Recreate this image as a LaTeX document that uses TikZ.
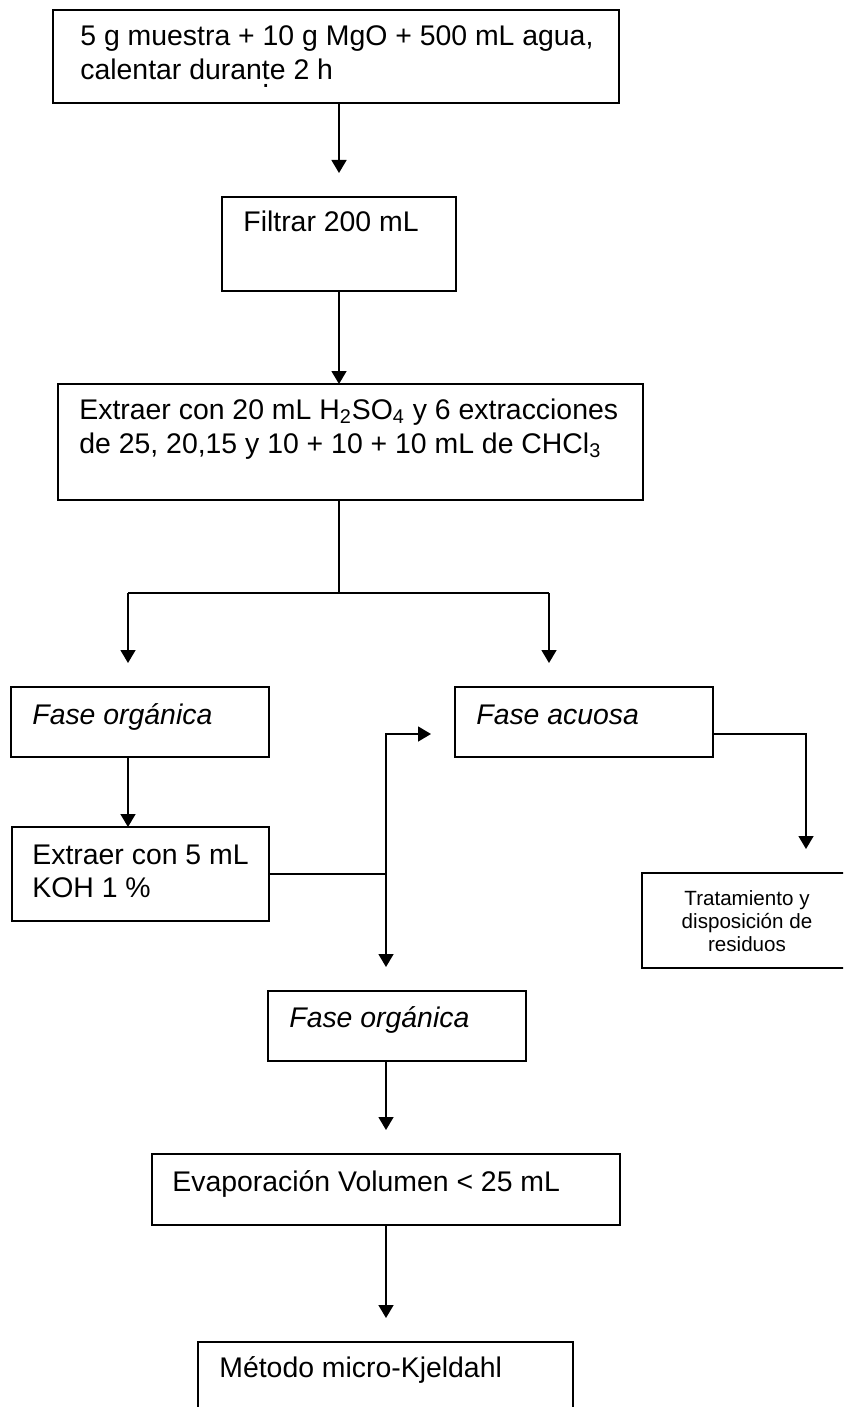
\documentclass[tikz,border=0pt]{standalone}
\usepackage{fontspec}
\setmainfont{Liberation Sans}
\usetikzlibrary{arrows.meta}
\newcommand\dotunder[1]{\oalign{#1\crcr\hidewidth.\hidewidth}}
\begin{document}
\begin{tikzpicture}[x=0.5pt,y=-0.5pt,
  box/.style={draw, line width=0.75pt, inner sep=0pt, outer sep=0pt, anchor=north west},
  txt/.style={inner sep=0pt, anchor=base west, font=\fontsize{14.2}{17}\selectfont},
  itx/.style={inner sep=0pt, anchor=base west, font=\fontsize{14.2}{17}\selectfont\itshape},
  small/.style={inner sep=0pt, anchor=base, font=\fontsize{10.3}{11.5}\selectfont},
  ln/.style={line width=0.75pt},
  arr/.style={ln, -{Triangle[length=6.5pt,width=7.5pt]}},
  gap/.style={shorten >=12pt}]
\useasboundingbox (0,0) rectangle (843,1407);
\clip (0,0) rectangle (843,1407);
\fill[white] (0,0) rectangle (843,1407);

% boxes
\node[box, minimum width=283pt, minimum height=46.5pt] (b1) at (53,10) {};
\node[box, minimum width=117pt, minimum height=47pt] (b2) at (222,197) {};
\node[box, minimum width=292.5pt, minimum height=58pt] (b3) at (58,384) {};
\node[box, minimum width=129pt, minimum height=35pt] (fo1) at (11,687) {};
\node[box, minimum width=129pt, minimum height=35pt] (fa) at (455,687) {};
\node[box, minimum width=128.5pt, minimum height=47pt] (k5) at (12,827) {};
\node[box, minimum width=105pt, minimum height=47.5pt] (tr) at (642,873) {};
\node[box, minimum width=129pt, minimum height=35pt] (fo2) at (268,991) {};
\node[box, minimum width=234pt, minimum height=35.5pt] (ev) at (152,1154) {};
\node[box, minimum width=187.5pt, minimum height=50pt] (me) at (198,1342) {};

% texts
\node[txt] (t1a) at (80,46) {5 g muestra + 10 g MgO + 500 mL agua,};
\node[txt] (t1b) at (80,80) {calentar duran\dotunder{t}e 2 h};
\node[txt] (t2) at (243,232) {Filtrar 200 mL};
\node[txt] (t3a) at (79,419) {Extraer con 20 mL H\textsubscript{2}SO\textsubscript{4} y 6 extracciones};
\node[txt] (t3b) at (79,453) {de 25, 20,15 y 10 + 10 + 10 mL de CHCl\textsubscript{3}};
\node[itx] (t4) at (32,724) {Fase orgánica};
\node[itx] (t5) at (476,724) {Fase acuosa};
\node[txt] (t6a) at (32,864) {Extraer con 5 mL};
\node[txt] (t6b) at (32,897) {KOH 1 \%};
\node[small] (t7a) at (747,905) {Tratamiento y};
\node[small] (t7b) at (747,928) {disposición de};
\node[small] (t7c) at (747,951) {residuos};
\node[itx] (t8) at (289,1027) {Fase orgánica};
\node[txt] (t9) at (172,1191) {Evaporación Volumen < 25 mL};
\node[txt] (t10) at (219,1377) {Método micro-Kjeldahl};

% junctions
\coordinate (sp) at (339,593);
\coordinate (spL) at (128,593);
\coordinate (spR) at (549,593);
\coordinate (jtop) at (386,734);
\coordinate (jmid) at (386,874);
\coordinate (fr) at (806,734);

% connectors
\draw[arr, gap] (b2.north |- b1.south) -- (b2.north);
\draw[arr] (b2.south) -- (b2.south |- b3.north);
\draw[ln] (b2.south |- b3.south) -- (sp);
\draw[ln] (spL) -- (spR);
\draw[arr, gap] (spL) -- (spL |- fo1.north);
\draw[arr, gap] (spR) -- (spR |- fa.north);
\draw[arr] (spL |- fo1.south) -- (spL |- k5.north);
\draw[ln] (k5.east) -- (jmid);
\draw[arr, gap] (jmid) -- (jtop) -- (fa.west |- jtop);
\draw[arr, gap] (jmid) -- (jmid |- fo2.north);
\draw[arr, gap] (fa.east |- fr) -- (fr) -- (fr |- tr.north);
\draw[arr, gap] (jmid |- fo2.south) -- (jmid |- ev.north);
\draw[arr, gap] (jmid |- ev.south) -- (jmid |- me.north);
\end{tikzpicture}
\end{document}
